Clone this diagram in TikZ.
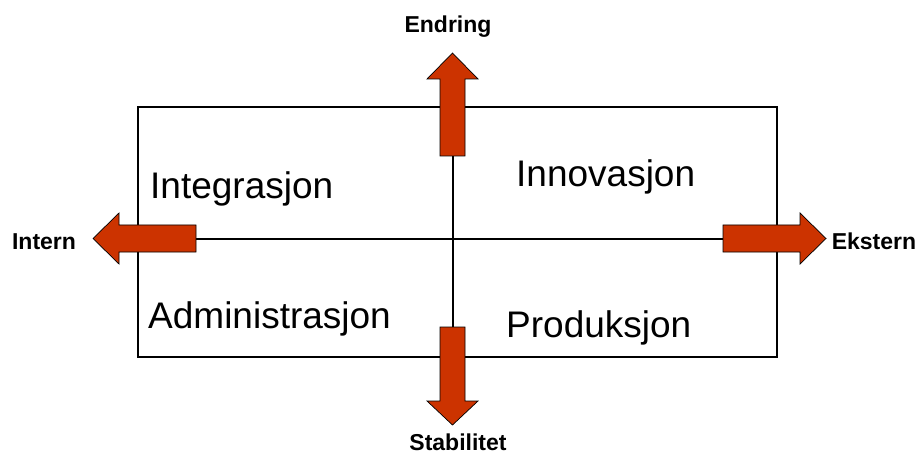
\documentclass[tikz,border=0pt]{standalone}
\usepackage{fontspec}
\setmainfont{Liberation Sans}
\definecolor{arrowred}{RGB}{204,51,0}
\begin{document}
\begin{tikzpicture}[x=1pt,y=-1pt,
  bigarrow/.style={fill=arrowred,draw=black,line width=0.7pt,line join=miter},
  quadlabel/.style={anchor=base west,inner sep=0pt,font=\fontsize{37}{41}\selectfont},
  axislabel/.style={inner sep=0pt,font=\fontsize{23}{27}\selectfont\bfseries}]
\useasboundingbox (0,0) rectangle (920,454);
\fill[white] (0,0) rectangle (920,454);
\draw[line width=2.7pt] (138,107) rectangle (777,357);
\coordinate (hl) at (196,239);
\coordinate (hr) at (723,239);
\coordinate (vt) at (453,156);
\coordinate (vb) at (453,327);
\draw[line width=1.1pt] (hl) -- (hr);
\draw[line width=1.1pt] (vt) -- (vb);
% up arrow
\draw[bigarrow] (440,156) -- (440,79) -- (427,79) -- (452.5,53) -- (478,79) -- (465,79) -- (465,156) -- cycle;
% down arrow
\draw[bigarrow] (440,327) -- (440,401) -- (427,401) -- (452.5,425) -- (478,401) -- (465,401) -- (465,327) -- cycle;
% left arrow
\draw[bigarrow] (196,225) -- (119,225) -- (119,213) -- (93,238.5) -- (119,264) -- (119,252) -- (196,252) -- cycle;
% right arrow
\draw[bigarrow] (723,225) -- (800,225) -- (800,213) -- (826,238.5) -- (800,264) -- (800,252) -- (723,252) -- cycle;
\node[quadlabel] (integ) at (150,199) {Integrasjon};
\node[quadlabel] (innov) at (516,187) {Innovasjon};
\node[quadlabel] (admin) at (148,328) {Administrasjon};
\node[quadlabel] (prod) at (506,337) {Produksjon};
\node[axislabel,anchor=base] (endr) at (448,33) {Endring};
\node[axislabel,anchor=base] (stab) at (458,450) {Stabilitet};
\node[axislabel,anchor=base] (int) at (44,249) {Intern};
\node[axislabel,anchor=base] (eks) at (874,249) {Ekstern};
\end{tikzpicture}
\end{document}
